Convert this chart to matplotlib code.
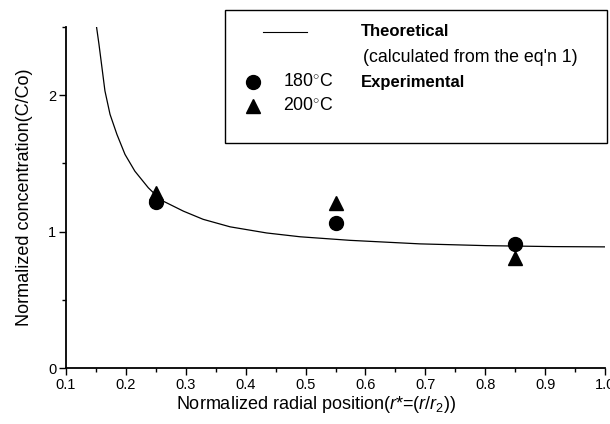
import matplotlib
matplotlib.use("Agg")
import matplotlib.pyplot as plt
from matplotlib.lines import Line2D
from matplotlib.patches import Rectangle
from matplotlib.ticker import MultipleLocator, FormatStrFormatter

plt.rcParams['font.family'] = ['Liberation Sans', 'DejaVu Sans']
plt.rcParams['mathtext.fontset'] = 'custom'
plt.rcParams['mathtext.rm'] = 'Liberation Sans'
plt.rcParams['mathtext.it'] = 'Liberation Sans:italic'

# theoretical curve
r_theory = [0.151, 0.155, 0.160, 0.165, 0.1735, 0.185, 0.1985, 0.215, 0.2375,
            0.249, 0.2625, 0.296, 0.329, 0.374, 0.435, 0.491, 0.574, 0.691,
            0.802, 0.914, 1.0]
c_theory = [2.50, 2.375, 2.204, 2.032, 1.860, 1.713, 1.566, 1.443, 1.321,
            1.272, 1.223, 1.150, 1.090, 1.035, 0.990, 0.962, 0.936, 0.910,
            0.897, 0.890, 0.888]

# experimental points
r_exp = [0.25, 0.55, 0.85]
c_180 = [1.22, 1.06, 0.91]
c_200 = [1.28, 1.21, 0.81]

W, H = 610, 424
fig = plt.figure(figsize=(W / 100, H / 100), dpi=100)
ax = fig.add_axes([66 / W, 56 / H, 539 / W, 341 / H])

ax.plot(r_theory, c_theory, color='black', lw=0.9)
ax.plot(r_exp, c_180, 'o', color='black', ms=10, clip_on=False)
ax.plot(r_exp, c_200, '^', color='black', ms=10, clip_on=False)

ax.set_xlim(0.1, 1.0)
ax.set_ylim(0, 2.5)
ax.xaxis.set_major_locator(MultipleLocator(0.1))
ax.xaxis.set_minor_locator(MultipleLocator(0.05))
ax.yaxis.set_major_locator(MultipleLocator(1))
ax.yaxis.set_minor_locator(MultipleLocator(0.5))
ax.xaxis.set_major_formatter(FormatStrFormatter('%.1f'))
ax.tick_params(which='major', length=5, width=1, labelsize=10.5, direction='out', pad=2)
ax.tick_params(which='minor', length=3, width=1, direction='out')
for s in ['top', 'right']:
    ax.spines[s].set_visible(False)
for s in ['left', 'bottom']:
    ax.spines[s].set_linewidth(1.3)

ax.set_xlabel(r"Normalized radial position($\mathit{r}$*=($\mathit{r}$/$\mathit{r}_2$))",
              fontsize=13)
ax.xaxis.set_label_coords(0.464, -0.075)
ax.set_ylabel("Normalized concentration(C/Co)", fontsize=13, labelpad=11)

# legend box drawn by hand
def fy(y):
    return 1 - y / H

def fx(x):
    return x / W

fig.add_artist(Rectangle((fx(225), fy(143)), fx(382), 133 / H, fill=False,
                         edgecolor='black', lw=1.0, transform=fig.transFigure))
fig.add_artist(Line2D([fx(263), fx(307)], [fy(32), fy(32)], color='black', lw=0.8,
                      transform=fig.transFigure))
fig.add_artist(Line2D([fx(253)], [fy(82)], marker='o', ms=10, color='black',
                      transform=fig.transFigure))
fig.add_artist(Line2D([fx(253)], [fy(106)], marker='^', ms=10, color='black',
                      transform=fig.transFigure))
fs = 12.8
fig.text(fx(361), fy(32), "Theoretical", fontsize=12, fontweight='bold', va='center')
fig.text(fx(363), fy(57), "(calculated from the eq'n 1)", fontsize=fs, va='center')
fig.text(fx(283), fy(82), r"180$^{\circ}$C", fontsize=fs, va='center')
fig.text(fx(361), fy(82), "Experimental", fontsize=12, fontweight='bold', va='center')
fig.text(fx(283), fy(106), r"200$^{\circ}$C", fontsize=fs, va='center')

fig.savefig("out.png", dpi=100)
